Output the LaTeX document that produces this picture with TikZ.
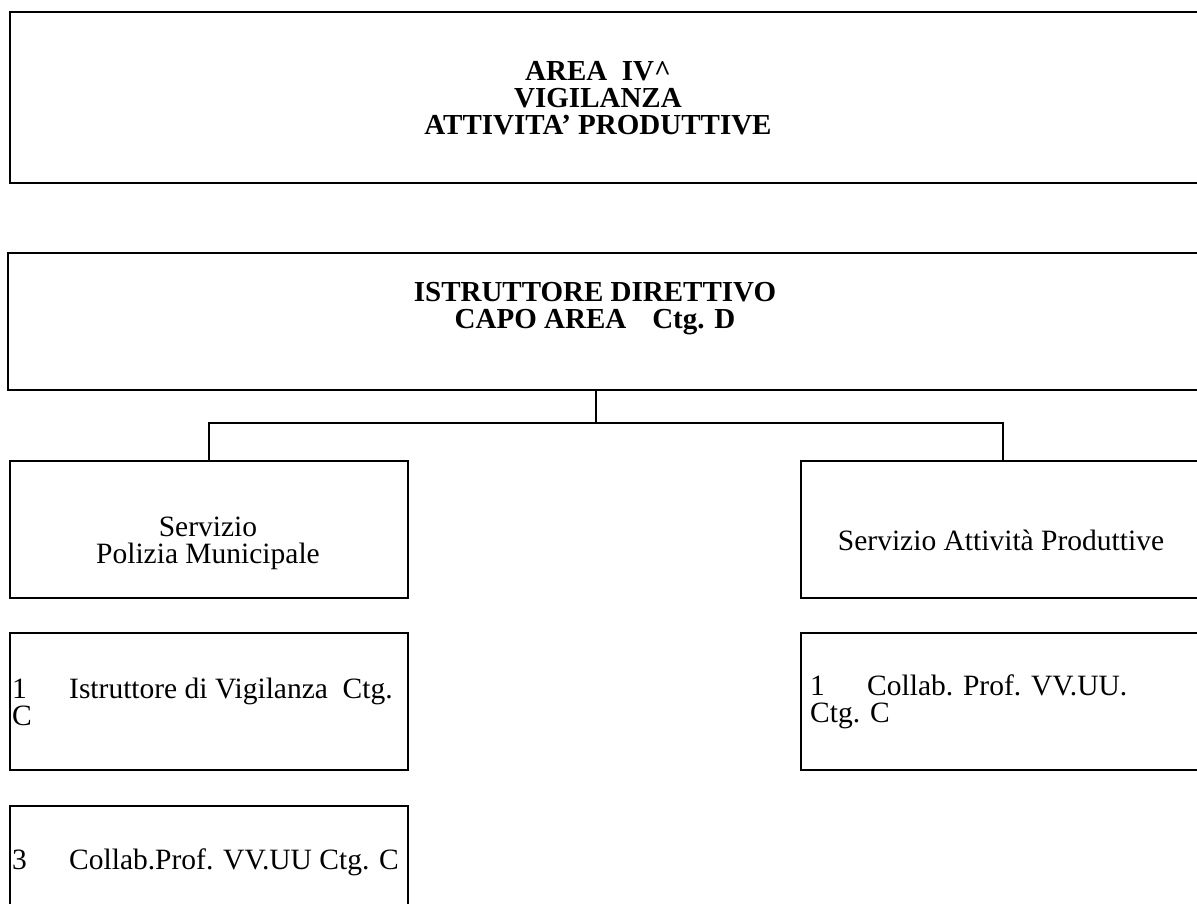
\documentclass[tikz,border=0pt]{standalone}
\usepackage{fontspec}
\setmainfont{Liberation Serif}
\begin{document}
\begin{tikzpicture}[x=1pt,y=-1pt,
  box/.style={draw,line width=2pt,anchor=north west,inner sep=0pt},
  txt/.style={font=\fontsize{29.5}{27}\selectfont,inner sep=0pt},
  btxt/.style={font=\fontsize{29}{27}\selectfont\bfseries,align=center,inner sep=0pt},
  link/.style={line width=2pt}]
\clip (0,0) rectangle (1197,904);
% boxes
\node[box,minimum width=1200pt,minimum height=171pt] (area) at (9,11) {};
\node[box,minimum width=1200pt,minimum height=137pt] (capo) at (7,252) {};
\node[box,minimum width=398pt,minimum height=137pt] (pm) at (9,460) {};
\node[box,minimum width=420pt,minimum height=137pt] (ap) at (800,460) {};
\node[box,minimum width=398pt,minimum height=137pt] (iv) at (9,632) {};
\node[box,minimum width=420pt,minimum height=137pt] (cp) at (800,632) {};
\node[box,minimum width=398pt,minimum height=137pt] (cv) at (9,805) {};
% texts
\node[btxt] (areaT) at (598,98) {AREA\ \ IV\textasciicircum\\VIGILANZA\\ATTIVITA’ PRODUTTIVE};
\node[btxt] (capoT) at (595,309) {ISTRUTTORE DIRETTIVO\\CAPO AREA\hspace{26pt}Ctg. D};
\node[txt,align=center] (pmT) at (208,543) {Servizio\\Polizia Municipale};
\node[txt] (apT) at (1001,540) {Servizio Attività Produttive};
\node[txt,align=left,anchor=west] (ivT) at (12,702) {\makebox[57pt][l]{1}Istruttore di Vigilanza\ \ Ctg.\\C};
\node[txt,align=left,anchor=west] (cpT) at (810,702) {\makebox[57pt][l]{1}Collab. Prof. VV.UU.\\Ctg. C};
\node[txt,anchor=west] (cvT) at (12,862) {\makebox[57pt][l]{3}Collab.Prof. VV.UU Ctg. C};
% connectors
\coordinate (j) at (596,423);
\draw[link] (capo.south -| j) -- (j);
\draw[link] (pm.north) |- (j) -| (ap.north -| 1003,0);
\end{tikzpicture}
\end{document}
